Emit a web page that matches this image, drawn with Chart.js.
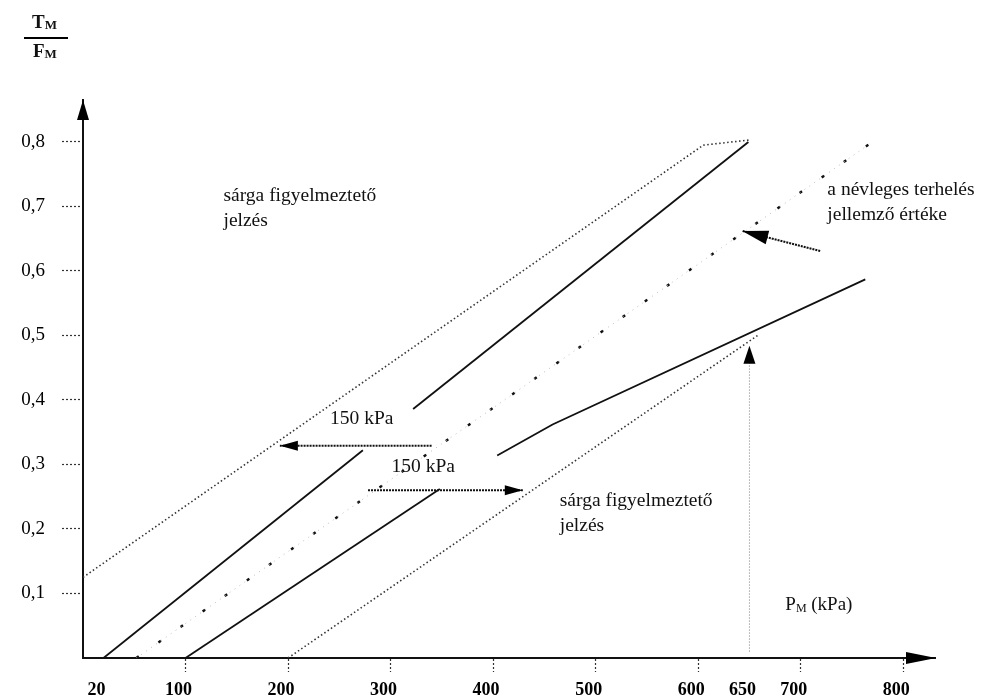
<!DOCTYPE html>
<html>
<head>
<meta charset="utf-8">
<script src="https://cdn.jsdelivr.net/npm/chart.js@4.4.1/dist/chart.umd.min.js"></script>
<style>
  html, body { margin: 0; padding: 0; background: #fff; }
  #wrap { width: 983px; height: 700px; }
</style>
</head>
<body>
<div id="wrap"><canvas id="grafico" width="983" height="700"></canvas></div>
<script>
// x: P_M (kPa), y: T_M / F_M
const xTicks = [20, 100, 200, 300, 400, 500, 600, 650, 700, 800];
const yTicks = [0.1, 0.2, 0.3, 0.4, 0.5, 0.6, 0.7, 0.8];
const yTickLabels = ['0,1', '0,2', '0,3', '0,4', '0,5', '0,6', '0,7', '0,8'];

// felso sarga hatar (pontozott)
const upperWarnP = [0, 605, 650];
const upperWarnT = [0.125, 0.795, 0.803];
// bal oldali folytonos vonal (+150 kPa)
const leftLowP = [20, 273];
const leftLowT = [0, 0.322];
const leftHighP = [322, 649];
const leftHighT = [0.386, 0.80];
// nevleges terheles
const nominalP = [52, 770];
const nominalT = [0, 0.80];
// jobb oldali folytonos vonal (-150 kPa)
const rightLowP = [100, 348];
const rightLowT = [0, 0.262];
const rightHighP = [404, 458, 763];
const rightHighT = [0.314, 0.362, 0.587];
// also sarga hatar (pontozott)
const lowerWarnP = [200, 658];
const lowerWarnT = [0, 0.50];

// nyilak
const shiftUpP = [340, 192];
const shiftUpT = [0.329, 0.329];
const shiftDownP = [278, 429];
const shiftDownT = [0.26, 0.26];
const nominalArrowP = [719, 643];
const nominalArrowT = [0.631, 0.662];
const pmArrowP = [650, 650];
const pmArrowT = [0.01, 0.484];

const pts = (xs, ys) => xs.map((x, i) => ({ x: x, y: ys[i] }));

const SERIF = "'Liberation Serif', 'Times New Roman', serif";

const dotted = (data) => ({ data, borderColor: '#333', borderWidth: 1.6, borderDash: [1.5, 2.5] });
const solid = (data) => ({ data, borderColor: '#111', borderWidth: 1.8 });
const arrow = (data, len, half, width) => ({
  data, borderColor: '#111', borderWidth: width, borderDash: [2, 1], arrow: { len, half }
});

function drawHead(ctx, x1, y1, x2, y2, len, half) {
  const ang = Math.atan2(y2 - y1, x2 - x1);
  ctx.save();
  ctx.translate(x2, y2);
  ctx.rotate(ang);
  ctx.beginPath();
  ctx.moveTo(0, 0);
  ctx.lineTo(-len, -half);
  ctx.lineTo(-len, half);
  ctx.closePath();
  ctx.fillStyle = '#000';
  ctx.fill();
  ctx.restore();
}

const arrowHeads = {
  id: 'arrowHeads',
  afterDatasetsDraw(chart) {
    const ctx = chart.ctx;
    chart.data.datasets.forEach((ds, i) => {
      if (!ds.arrow) return;
      const el = chart.getDatasetMeta(i).data;
      const a = el[el.length - 2], b = el[el.length - 1];
      drawHead(ctx, a.x, a.y, b.x, b.y, ds.arrow.len, ds.arrow.half);
    });
  },
  afterDraw(chart) {
    const ctx = chart.ctx;
    const xs = chart.scales.x, ys = chart.scales.y;
    const x0 = xs.getPixelForValue(0), y0 = ys.getPixelForValue(0);
    drawHead(ctx, x0, y0, xs.right + 1, y0, 30, 6);
    drawHead(ctx, x0, y0, x0, ys.top, 20, 6);
  }
};

// szovegek (adatkoordinataban)
const notes = [
  { p: 137, t: 0.717, lines: ['sárga figyelmeztető', 'jelzés'] },
  { p: 465, t: 0.244, lines: ['sárga figyelmeztető', 'jelzés'] },
  { p: 726, t: 0.726, lines: ['a névleges terhelés', 'jellemző értéke'] },
  { p: 241, t: 0.371, lines: ['150 kPa'] },
  { p: 301, t: 0.297, lines: ['150 kPa'] }
];

const texts = {
  id: 'texts',
  afterDraw(chart) {
    const ctx = chart.ctx;
    const xs = chart.scales.x, ys = chart.scales.y;
    ctx.save();
    ctx.fillStyle = '#111';
    ctx.textBaseline = 'middle';
    ctx.textAlign = 'left';
    ctx.font = '19.5px ' + SERIF;
    notes.forEach(n => {
      const x = xs.getPixelForValue(n.p), y = ys.getPixelForValue(n.t);
      n.lines.forEach((s, k) => ctx.fillText(s, x, y + k * 25));
    });

    // P_M (kPa)
    let x = xs.getPixelForValue(685), y = ys.getPixelForValue(0.082);
    ctx.font = '19px ' + SERIF;
    ctx.fillText('P', x, y);
    x += ctx.measureText('P').width;
    ctx.font = '12px ' + SERIF;
    ctx.fillText('M', x, y + 4);
    x += ctx.measureText('M').width;
    ctx.font = '19px ' + SERIF;
    ctx.fillText(' (kPa)', x, y);

    // T_M / F_M
    ctx.font = 'bold 19px ' + SERIF;
    ctx.fillText('T', 32, 23);
    ctx.fillText('F', 33, 52);
    const tw = ctx.measureText('T').width, fw = ctx.measureText('F').width;
    ctx.font = 'bold 13px ' + SERIF;
    ctx.fillText('M', 32 + tw, 26);
    ctx.fillText('M', 33 + fw, 55);
    ctx.beginPath();
    ctx.moveTo(24, 38);
    ctx.lineTo(68, 38);
    ctx.lineWidth = 2;
    ctx.strokeStyle = '#000';
    ctx.stroke();
    ctx.restore();
  }
};

new Chart(document.getElementById('grafico'), {
  type: 'scatter',
  data: {
    datasets: [
      dotted(pts(upperWarnP, upperWarnT)),
      dotted(pts(lowerWarnP, lowerWarnT)),
      solid(pts(leftLowP, leftLowT)),
      solid(pts(leftHighP, leftHighT)),
      solid(pts(rightLowP, rightLowT)),
      solid(pts(rightHighP, rightHighT)),
      { data: pts(nominalP, nominalT), borderColor: '#bbb', borderWidth: 1, borderDash: [1, 5] },
      { data: pts(nominalP, nominalT), borderColor: '#111', borderWidth: 2.5, borderDash: [3, 24] },
      arrow(pts(shiftUpP, shiftUpT), 18, 5, 2),
      arrow(pts(shiftDownP, shiftDownT), 18, 5, 2),
      arrow(pts(nominalArrowP, nominalArrowT), 26, 7, 2),
      { data: pts(pmArrowP, pmArrowT), borderColor: '#777', borderWidth: 1, borderDash: [1, 2], arrow: { len: 18, half: 6 } }
    ]
  },
  options: {
    responsive: false,
    animation: false,
    devicePixelRatio: 1,
    showLine: true,
    layout: { padding: { left: 0, right: 48, top: 100, bottom: 0 } },
    elements: { point: { radius: 0, hoverRadius: 0 }, line: { tension: 0 } },
    plugins: { legend: { display: false }, tooltip: { enabled: false } },
    scales: {
      x: {
        type: 'linear',
        min: 0,
        max: 831,
        afterBuildTicks: (scale) => { scale.ticks = xTicks.map(v => ({ value: v })); },
        afterFit: (scale) => { scale.height = 42; },
        ticks: {
          color: '#000',
          padding: 8,
          labelOffset: -7,
          maxRotation: 0,
          autoSkip: false,
          font: { family: SERIF, size: 18, weight: 'bold' },
          callback: (v) => String(v)
        },
        grid: {
          drawOnChartArea: false,
          drawTicks: true,
          tickLength: 14,
          tickWidth: 1.2,
          tickBorderDash: [2, 2],
          tickColor: (c) => (c.tick && (c.tick.value === 20 || c.tick.value === 650)) ? 'rgba(0,0,0,0)' : '#333'
        },
        border: { display: true, color: '#111', width: 2, dash: [2, 1] }
      },
      y: {
        type: 'linear',
        min: 0,
        max: 0.865,
        afterBuildTicks: (scale) => { scale.ticks = yTicks.map(v => ({ value: v })); },
        afterFit: (scale) => { scale.width = 83; },
        ticks: {
          color: '#000',
          padding: 17,
          autoSkip: false,
          font: { family: SERIF, size: 19 },
          callback: (v) => yTickLabels[yTicks.indexOf(v)]
        },
        grid: {
          drawOnChartArea: false,
          drawTicks: true,
          tickLength: 21,
          tickWidth: 1.2,
          tickBorderDash: [2, 2],
          tickColor: '#333'
        },
        border: { display: true, color: '#111', width: 2, dash: [2, 1] }
      }
    }
  },
  plugins: [arrowHeads, texts]
});
</script>
</body>
</html>
